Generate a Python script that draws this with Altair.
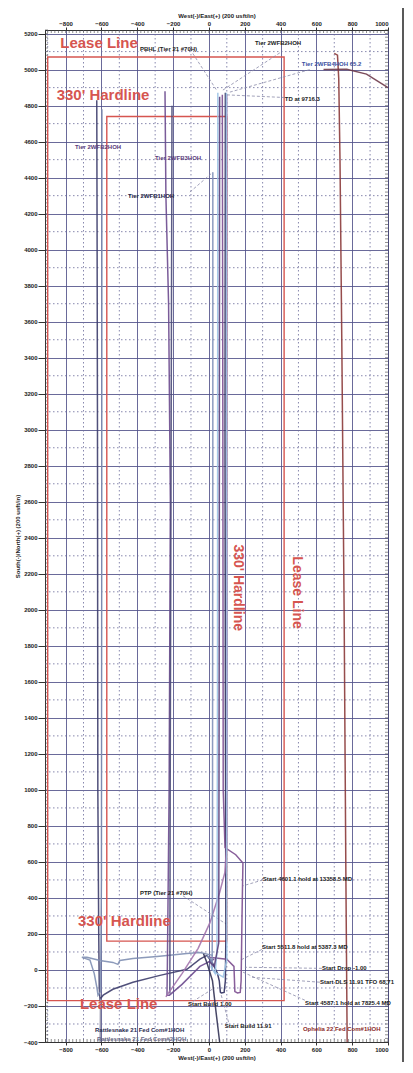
import altair as alt
import pandas as pd

# ---------------- axis values ----------------
x_ticks = list(range(-800, 1001, 200))
y_ticks = list(range(-400, 5201, 200))
x_minor_grid = list(range(-900, 1001, 200))
y_minor_grid = list(range(-300, 5201, 200))
y_small_ticks = list(range(-400, 5221, 20))
x_small_ticks = list(range(-900, 1001, 20))

# ---------------- boundaries ----------------
lease_x = [-900, 420]
lease_y = [-170, 5070]
hard_x = [-570, 100]
hard_y = [160, 4740]

# ---------------- well paths ----------------
wells = {
    "Rattlesnake 21 Fed Com#1HOH": (
        [-11, -50, -123, -273, -424, -536, -590, -608, -612, -615, -620, -622, -624, -626],
        [81, 60, 4, -30, -68, -107, -140, -162, -100, 200, 1000, 3000, 4000, 4830],
        "#3d3d6b"),
    "Rattlesnake 21 Fed Com#2HOH": (
        [22, -50, -123, -290, -424, -497, -508, -536, -608, -681, -709, -664, -640, -625, -619, -605, -600, -598, -597],
        [81, 97, 92, 75, 64, 53, 31, 42, 53, 70, 70, 55, -20, -100, -140, -120, 500, 2500, 4780],
        "#7f8fb3"),
    "Rattlesnake south": (
        [-605, -606, -607],
        [-160, -300, -400],
        "#8d8da5"),
    "Tier 2WFB3HOH": (
        [30, -50, -150, -220, -234, -232, -222, -215, -225, -240, -245],
        [60, 20, -80, -140, -140, 0, 1000, 2600, 3700, 4300, 4880],
        "#6b4a8e"),
    "Tier 2WFB3HOH b": (
        [-218, -216, -212, -208, -206],
        [-130, 1000, 2500, 4000, 4800],
        "#4a4a78"),
    "Tier 21 #70H": (
        [-11, 20, 48, 58, 64, 70, 85, 92, 95, 92, 90, 92],
        [81, 40, -20, -60, -123, -128, -125, -60, 200, 1500, 3000, 4872],
        "#2f2f5f"),
    "Tier 2WFB2HOH": (
        [0, 100, 140, 145, 160, 175, 180, 185, 190, 150, 90, 80, 78, 75],
        [70, 60, 20, -120, -128, -125, -60, 300, 594, 640, 680, 1000, 3000, 4860],
        "#7b4d8f"),
    "Tier 2WFB4HOH": (
        [-240, -234, -150, -60, 6, 60, 89, 100, 102, 100, 100],
        [-150, -140, -20, 120, 263, 430, 540, 700, 1500, 3000, 4860],
        "#a374ad"),
    "Start Build": (
        [-30, -11, 20, 40, 60],
        [90, 40, -60, -234, -400],
        "#333355"),
    "Tier 2WFB1HOH": (
        [-11, 10, 18, 20, 22, 22],
        [81, 60, 0, 500, 3000, 4430],
        "#8090b8"),
    "Tier 2WFC1HOH": (
        [10, 35, 45, 48, 50],
        [20, -20, 100, 1500, 4872],
        "#9cc3e6"),
    "Tier 2WFC2HOH": (
        [30, 80, 100, 100, 98],
        [-10, -40, 60, 2000, 4872],
        "#9cc3e6"),
    "Tier 2WFB5HOH": (
        [0, 30, 55, 58, 60],
        [50, 20, 150, 2000, 4850],
        "#5a3f7a"),
    "Ophelia 22 Fed Com#1HOH": (
        [772, 765, 755, 742, 732, 725, 718, 700],
        [-400, 500, 2000, 3500, 4500, 4950, 5080, 5090],
        "#8b3a3a"),
    "Ophelia top": (
        [640, 770, 880, 1000],
        [5000, 5002, 4975, 4900],
        "#6e3a4a"),
}

rows = []
for name, (xs_, ys_, col) in wells.items():
    for i, (xv, yv) in enumerate(zip(xs_, ys_)):
        rows.append({"well": name, "x": xv, "y": yv, "i": i})
well_df = pd.DataFrame(rows)
well_names = list(wells.keys())
well_colors = [wells[n][2] for n in well_names]

# ---------------- labels ----------------
red_text = ["Lease Line", "330' Hardline", "330' Hardline", "Lease Line", "330' Hardline", "Lease Line"]
red_x = [-830, -850, 162, 491, -731, -720]
red_y = [5150, 4861, 2123, 2096, 274, -190]
red_angle = [0, 0, 90, 90, 0, 0]
red_align_center = [False, False, True, True, False, False]

small_text = ["PBHL (Tier 21 #70H)", "Tier 2WFB2HOH", "Tier 2WFB4HOH 65.2", "TD at 9716.3",
              "Tier 2WFB2HOH", "Tier 2WFB3HOH", "Tier 2WFB1HOH", "PTP (Tier 21 #70H)",
              "Start 4601.1 hold at 13358.5 MD", "Start 5511.8 hold at 5387.3 MD",
              "Start Drop -1.00", "Start DLS 11.91 TFO 68.71", "Start 4587.1 hold at 7825.4 MD",
              "Start Build 1.00", "Start Build 11.91", "Ophelia 22 Fed Com#1HOH",
              "Rattlesnake 21 Fed Com#1HOH", "Rattlesnake 21 Fed Com#2HOH"]
small_x = [-385, 257, 519, 424, -748, -301, -452, -385, 301, 296, 631, 620, 536, -117, 89, 525, -636, -625]
small_y = [5115, 5148, 5032, 4839, 4569, 4508, 4298, 429, 506, 125, 9, -68, -184, -190, -311, -328, -333, -383]
small_color = ["#222222", "#222222", "#3a4fa0", "#222222", "#5a3a7a", "#5a3a7a", "#222244", "#222222",
               "#222222", "#222222", "#222222", "#222222", "#222222", "#222222", "#222222", "#8b2a2a",
               "#2a2a50", "#6a6a88"]

leader_x1 = [-90, 396, 563, 424, -106, -145, 301, 296, 536, 620, 631, -90, 110]
leader_y1 = [5090, 5093, 5000, 4845, 4320, 412, 500, 114, -168, -68, 9, -175, -290]
leader_x2 = [45, 73, 106, 95, 22, 101, 190, 173, 190, 229, 201, 30, 65]
leader_y2 = [4883, 4883, 4872, 4860, 4430, 252, 467, 53, -12, -40, 15, -100, -125]

RED = "#d65550"
GRID = "#505088"
FONT = "Liberation Sans"

xs = alt.Scale(domain=[-915, 1000], nice=False, zero=False)
ys = alt.Scale(domain=[-400, 5220], nice=False, zero=False)

axis_common = dict(labelFontSize=6, labelFontWeight="bold", labelColor="#222222", titleFontSize=6,
                   titleFontWeight="bold", titleColor="#222222", domainColor="#333333", tickColor="#333333",
                   gridColor=GRID, gridWidth=1, gridOpacity=0.85, labelFont=FONT, titleFont=FONT, format="d")

grid_top = alt.Chart(pd.DataFrame({"x": [x_ticks[0]], "y": [y_ticks[0]]})).mark_point(opacity=0).encode(
    x=alt.X("x:Q", scale=xs, axis=alt.Axis(orient="top", values=x_ticks, title="West(-)/East(+) (200 usft/in)",
                                          tickSize=3, labelPadding=1, titlePadding=2, grid=True, **axis_common)),
    y=alt.Y("y:Q", scale=ys, axis=alt.Axis(orient="left", values=y_ticks, title="South(-)/North(+) (200 usft/in)",
                                          tickSize=7, labelPadding=1, titlePadding=3, grid=True, **axis_common)),
)
bottom_axis = alt.Chart(pd.DataFrame({"x": [x_ticks[0]], "y": [y_ticks[0]]})).mark_point(opacity=0).encode(
    x=alt.X("x:Q", scale=xs, axis=alt.Axis(orient="bottom", values=x_ticks, title="West(-)/East(+) (200 usft/in)",
                                          tickSize=3, labelPadding=1, titlePadding=2, grid=False, **axis_common)),
    y=alt.Y("y:Q", scale=ys, axis=None),
)

minor_v = alt.Chart(pd.DataFrame({"x": x_minor_grid})).mark_rule(
    color="#6a6a9a", strokeWidth=1, strokeDash=[1.5, 2.5], opacity=0.8).encode(
    x=alt.X("x:Q", scale=xs, axis=None), y=alt.value(0), y2=alt.value(1012))
minor_h = alt.Chart(pd.DataFrame({"y": y_minor_grid})).mark_rule(
    color="#6a6a9a", strokeWidth=1, strokeDash=[1.5, 2.5], opacity=0.8).encode(
    y=alt.Y("y:Q", scale=ys, axis=None), x=alt.value(0), x2=alt.value(343))

ticks_left = alt.Chart(pd.DataFrame({"y": y_small_ticks})).mark_rule(color="#444", strokeWidth=0.6).encode(
    y=alt.Y("y:Q", scale=ys, axis=None), x=alt.value(0), x2=alt.value(3))
ticks_right = alt.Chart(pd.DataFrame({"y": y_small_ticks})).mark_rule(color="#444", strokeWidth=0.6).encode(
    y=alt.Y("y:Q", scale=ys, axis=None), x=alt.value(340), x2=alt.value(343))
ticks_top = alt.Chart(pd.DataFrame({"x": x_small_ticks})).mark_rule(color="#444", strokeWidth=0.6).encode(
    x=alt.X("x:Q", scale=xs, axis=None), y=alt.value(0), y2=alt.value(3))
ticks_bottom = alt.Chart(pd.DataFrame({"x": x_small_ticks})).mark_rule(color="#444", strokeWidth=0.6).encode(
    x=alt.X("x:Q", scale=xs, axis=None), y=alt.value(1009), y2=alt.value(1012))

lease = alt.Chart(pd.DataFrame({"x": [lease_x[0]], "x2": [lease_x[1]], "y": [lease_y[0]], "y2": [lease_y[1]]})).mark_rect(
    filled=False, stroke=RED, strokeWidth=1.4).encode(
    x=alt.X("x:Q", scale=xs, axis=None), x2="x2:Q", y=alt.Y("y:Q", scale=ys, axis=None), y2="y2:Q")
hard = alt.Chart(pd.DataFrame({"x": [hard_x[0]], "x2": [hard_x[1]], "y": [hard_y[0]], "y2": [hard_y[1]]})).mark_rect(
    filled=False, stroke=RED, strokeWidth=1.4).encode(
    x=alt.X("x:Q", scale=xs, axis=None), x2="x2:Q", y=alt.Y("y:Q", scale=ys, axis=None), y2="y2:Q")

leaders = alt.Chart(pd.DataFrame({"x": leader_x1, "y": leader_y1, "x2": leader_x2, "y2": leader_y2})).mark_rule(
    color="#8a8aa8", strokeWidth=0.8, strokeDash=[3, 2]).encode(
    x=alt.X("x:Q", scale=xs, axis=None), y=alt.Y("y:Q", scale=ys, axis=None), x2="x2:Q", y2="y2:Q")

well_lines = alt.Chart(well_df).mark_line(strokeWidth=1.5, opacity=0.9).encode(
    x=alt.X("x:Q", scale=xs, axis=None),
    y=alt.Y("y:Q", scale=ys, axis=None),
    color=alt.Color("well:N", scale=alt.Scale(domain=well_names, range=well_colors), legend=None),
    order="i:Q",
)

red_df = pd.DataFrame({"t": red_text, "x": red_x, "y": red_y, "a": red_angle, "c": red_align_center})
red_left = alt.Chart(red_df[~red_df["c"]]).mark_text(
    align="left", baseline="middle", font=FONT, fontWeight="bold", fontSize=15, color=RED).encode(
    x=alt.X("x:Q", scale=xs, axis=None), y=alt.Y("y:Q", scale=ys, axis=None), text="t:N")
red_rot = alt.Chart(red_df[red_df["c"]]).mark_text(
    align="center", baseline="middle", font=FONT, fontWeight="bold", fontSize=14, color=RED, angle=90).encode(
    x=alt.X("x:Q", scale=xs, axis=None), y=alt.Y("y:Q", scale=ys, axis=None), text="t:N")

small_df = pd.DataFrame({"t": small_text, "x": small_x, "y": small_y, "c": small_color})
small = alt.Chart(small_df).mark_text(
    align="left", baseline="middle", font=FONT, fontWeight="bold", fontSize=6).encode(
    x=alt.X("x:Q", scale=xs, axis=None), y=alt.Y("y:Q", scale=ys, axis=None), text="t:N",
    color=alt.Color("c:N", scale=None))

frame = alt.Chart(pd.DataFrame({"v": [0]})).mark_rule(color="#222222", strokeWidth=1.5).encode(
    x=alt.value(358), y=alt.value(-30), y2=alt.value(1040))

chart = alt.layer(
    grid_top, minor_v, minor_h, bottom_axis, ticks_left, ticks_right, ticks_top, ticks_bottom,
    lease, hard, leaders, well_lines, red_left, red_rot, small, frame,
).resolve_axis(x="independent", y="independent").properties(
    width=343, height=1012,
    autosize=alt.AutoSizeParams(type="none"),
    padding={"left": 37, "top": 22, "right": 17, "bottom": 20},
    background="white",
).configure_view(stroke="#333333", strokeWidth=1)

chart.save("out.html", embed_options={"renderer": "svg", "actions": False})
